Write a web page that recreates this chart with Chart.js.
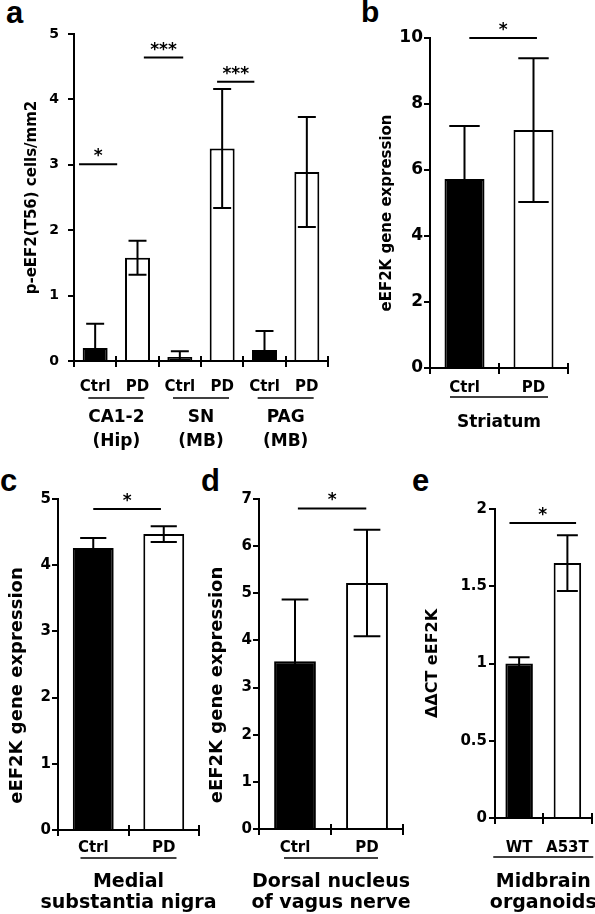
<!DOCTYPE html>
<html>
<head>
<meta charset="utf-8">
<script src="https://cdn.jsdelivr.net/npm/chart.js@4.4.1/dist/chart.umd.min.js"></script>
<style>
  body { margin: 0; width: 595px; height: 914px; position: relative; overflow: hidden; background: #fff; }
  canvas { position: absolute; }
  .letter { position: absolute; font-family: 'Liberation Sans', Arial, sans-serif; font-weight: bold; color: #000; line-height: 1; }
</style>
</head>
<body>
<div class="letter" style="left:6px;top:-3px;font-size:31px">a</div>
<div class="letter" style="left:361px;top:-3px;font-size:30px">b</div>
<div class="letter" style="left:0px;top:465px;font-size:31px">c</div>
<div class="letter" style="left:201px;top:465px;font-size:31px">d</div>
<div class="letter" style="left:412px;top:465px;font-size:31px">e</div>

<canvas id="chartA" width="345" height="470" style="left:0;top:0"></canvas>
<canvas id="chartB" width="245" height="470" style="left:350px;top:0"></canvas>
<canvas id="chartC" width="220" height="444" style="left:0;top:470px"></canvas>
<canvas id="chartD" width="215" height="444" style="left:200px;top:470px"></canvas>
<canvas id="chartE" width="215" height="444" style="left:400px;top:470px"></canvas>

<script>
// panel a - p-eEF2(T56) cells
const aLabels = ['Ctrl', 'PD', 'Ctrl', 'PD', 'Ctrl', 'PD'];
const aMeans = [0.2, 1.58, 0.06, 3.25, 0.17, 2.89];
const aErr = [0.37, 0.26, 0.09, 0.91, 0.29, 0.84];
const aGroups = [['CA1-2', '(Hip)'], ['SN', '(MB)'], ['PAG', '(MB)']];
const aSigText = ['*', '***', '***'];
const aSigLevel = [3.01, 4.64, 4.27];
const aSigSpan = [[-0.38, 0.52], [1.15, 2.08], [2.88, 3.76]];

// panel b - striatum
const bLabels = ['Ctrl', 'PD'];
const bMeans = [5.73, 7.21];
const bErr = [1.6, 2.18];
const bGroups = [['Striatum']];
const bSigText = ['*'];
const bSigLevel = [10];
const bSigSpan = [[0.07, 1.05]];

// panel c - medial substantia nigra
const cLabels = ['Ctrl', 'PD'];
const cMeans = [4.26, 4.47];
const cErr = [0.15, 0.12];
const cGroups = [['Medial', 'substantia nigra']];
const cSigText = ['*'];
const cSigLevel = [4.85];
const cSigSpan = [[0.0, 0.96]];

// panel d - dorsal nucleus of vagus nerve
const dLabels = ['Ctrl', 'PD'];
const dMeans = [3.56, 5.22];
const dErr = [1.31, 1.13];
const dGroups = [['Dorsal nucleus', 'of vagus nerve']];
const dSigText = ['*'];
const dSigLevel = [6.8];
const dSigSpan = [[0.04, 0.99]];

// panel e - midbrain organoids
const eLabels = ['WT', 'A53T'];
const eMeans = [1.0, 1.65];
const eErr = [0.04, 0.18];
const eGroups = [['Midbrain', 'organoids']];
const eSigText = ['*'];
const eSigLevel = [1.91];
const eSigSpan = [[-0.2, 1.18]];

const FONT = "'DejaVu Sans', sans-serif";
Chart.defaults.font.family = FONT;
Chart.defaults.font.weight = 'bold';
Chart.defaults.color = '#000';

// error bars, boundary ticks, significance bars, group labels, y title
const panelExtras = {
  id: 'panelExtras',
  afterDatasetsDraw(chart, args, opts) {
    const { ctx, chartArea, scales: { x, y } } = chart;
    const ds = chart.data.datasets[0];
    const meta = chart.getDatasetMeta(0);
    ctx.save();
    ctx.strokeStyle = '#000';
    ctx.fillStyle = '#000';
    ctx.lineWidth = 2;

    meta.data.forEach((bar, i) => {
      const v = ds.data[i], e = ds.errors[i];
      const yTop = y.getPixelForValue(v + e);
      const yBot = y.getPixelForValue(Math.max(0, v - e));
      const hw = bar.width * opts.capRatio;
      ctx.beginPath();
      ctx.moveTo(bar.x, yTop); ctx.lineTo(bar.x, yBot);
      ctx.moveTo(bar.x - hw, yTop); ctx.lineTo(bar.x + hw, yTop);
      if (v - e > 0) { ctx.moveTo(bar.x - hw, yBot); ctx.lineTo(bar.x + hw, yBot); }
      ctx.stroke();
    });

    // ticks between categories, crossing the axis
    const n = ds.data.length;
    ctx.beginPath();
    for (let k = 0; k <= n; k++) {
      const px = Math.round(x.getPixelForValue(k - 0.5));
      ctx.moveTo(px, chartArea.bottom - 5);
      ctx.lineTo(px, chartArea.bottom + 6);
    }
    ctx.stroke();

    // significance
    ctx.textAlign = 'center';
    ctx.textBaseline = 'alphabetic';
    ctx.font = `bold ${opts.starSize}px ${FONT}`;
    opts.sigText.forEach((t, i) => {
      const yy = y.getPixelForValue(opts.sigLevel[i]);
      const x0 = x.getPixelForValue(opts.sigSpan[i][0]);
      const x1 = x.getPixelForValue(opts.sigSpan[i][1]);
      ctx.beginPath();
      ctx.moveTo(x0, yy); ctx.lineTo(x1, yy);
      ctx.stroke();
      ctx.fillText(t, (x0 + x1) / 2, yy - 3);
    });

    // group underline + labels
    const per = n / opts.groups.length;
    ctx.font = `bold ${opts.groupSize}px ${FONT}`;
    ctx.textBaseline = 'middle';
    ctx.lineWidth = 1.5;
    opts.groups.forEach((lines, g) => {
      const cx = x.getPixelForValue(g * per + (per - 1) / 2);
      const uy = chartArea.bottom + opts.underline;
      ctx.beginPath();
      ctx.moveTo(cx - opts.underHalf, uy); ctx.lineTo(cx + opts.underHalf, uy);
      ctx.stroke();
      lines.forEach((s, j) => {
        ctx.fillText(s, cx, chartArea.bottom + opts.groupLines[j]);
      });
    });

    // y axis title (the figure does not centre it on the axis)
    const t = y.options.title;
    ctx.font = `bold ${t.font.size}px ${FONT}`;
    ctx.translate(opts.titleX, (chartArea.top + chartArea.bottom) / 2 + opts.titleShift);
    ctx.rotate(-Math.PI / 2);
    ctx.fillText(t.text, 0, 0);
    ctx.restore();
  }
};

function makePanel(id, p) {
  const fills = p.labels.map((l, i) => (i % 2 === 0 ? '#000' : '#fff'));
  return new Chart(document.getElementById(id), {
    type: 'bar',
    data: {
      labels: p.labels,
      datasets: [{
        data: p.means,
        errors: p.errors,
        backgroundColor: fills,
        borderColor: '#000',
        borderWidth: 2,
        barPercentage: p.barPct,
        categoryPercentage: 1
      }]
    },
    options: {
      responsive: false,
      animation: false,
      layout: { padding: p.pad },
      plugins: {
        legend: { display: false },
        tooltip: { enabled: false },
        panelExtras: p.extras
      },
      scales: {
        x: {
          grid: { display: false, drawTicks: false },
          border: { display: true, color: '#000', width: 2 },
          ticks: { font: { size: p.catSize, weight: 'bold' }, color: '#000', padding: p.catPad, maxRotation: 0 },
          afterFit: (s) => { s.height = 45; }
        },
        y: {
          min: 0, max: p.max,
          grid: { display: true, drawOnChartArea: false, drawTicks: true, tickLength: 6, color: '#000', lineWidth: 2 },
          border: { display: true, color: '#000', width: 2 },
          ticks: {
            stepSize: p.step, font: { size: p.tickSize, weight: 'bold' }, color: '#000', padding: p.tickPad,
            callback: (v) => String(v)
          },
          title: { display: false, text: p.title, font: { size: p.titleSize, weight: 'bold' } },
          afterFit: (s) => { s.width = p.yWidth; }
        }
      }
    },
    plugins: [panelExtras]
  });
}

makePanel('chartA', {
  labels: aLabels, means: aMeans, errors: aErr, max: 5, step: 1, barPct: 0.59,
  title: 'p-eEF2(T56) cells/mm2', titleSize: 15, tickSize: 14, tickPad: 9,
  catSize: 15, catPad: 17, yWidth: 74,
  pad: { top: 34, right: 17, bottom: 64, left: 0 },
  extras: { capRatio: 0.36, starSize: 17, sigText: aSigText, sigLevel: aSigLevel, sigSpan: aSigSpan,
            groups: aGroups, groupSize: 17, underline: 37, underHalf: 28, groupLines: [57, 81],
            titleX: 32, titleShift: 0 }
});

makePanel('chartB', {
  labels: bLabels, means: bMeans, errors: bErr, max: 10, step: 2, barPct: 0.58,
  title: 'eEF2K gene expression', titleSize: 15, tickSize: 17, tickPad: 1,
  catSize: 15, catPad: 11, yWidth: 80,
  pad: { top: 38, right: 27, bottom: 57, left: 0 },
  extras: { capRatio: 0.38, starSize: 17, sigText: bSigText, sigLevel: bSigLevel, sigSpan: bSigSpan,
            groups: bGroups, groupSize: 17, underline: 29, underHalf: 49, groupLines: [55],
            titleX: 37, titleShift: 10 }
});

makePanel('chartC', {
  labels: cLabels, means: cMeans, errors: cErr, max: 5, step: 1, barPct: 0.58,
  title: 'eEF2K gene expression', titleSize: 18, tickSize: 15, tickPad: 1,
  catSize: 15, catPad: 9, yWidth: 58,
  pad: { top: 29, right: 21, bottom: 39, left: 0 },
  extras: { capRatio: 0.32, starSize: 17, sigText: cSigText, sigLevel: cSigLevel, sigSpan: cSigSpan,
            groups: cGroups, groupSize: 19, underline: 28, underHalf: 48, groupLines: [52, 73],
            titleX: 17, titleShift: 21 }
});

makePanel('chartD', {
  labels: dLabels, means: dMeans, errors: dErr, max: 7, step: 1, barPct: 0.58,
  title: 'eEF2K gene expression', titleSize: 18, tickSize: 15, tickPad: 1,
  catSize: 15, catPad: 10, yWidth: 59,
  pad: { top: 29, right: 12, bottom: 40, left: 0 },
  extras: { capRatio: 0.32, starSize: 17, sigText: dSigText, sigLevel: dSigLevel, sigSpan: dSigSpan,
            groups: dGroups, groupSize: 19, underline: 29, underHalf: 47, groupLines: [53, 74],
            titleX: 17, titleShift: 21 }
});

makePanel('chartE', {
  labels: eLabels, means: eMeans, errors: eErr, max: 2, step: 0.5, barPct: 0.57,
  title: 'ΔΔCT eEF2K', titleSize: 16, tickSize: 15, tickPad: 2,
  catSize: 15, catPad: 21, yWidth: 95,
  pad: { top: 39, right: 21, bottom: 51, left: 0 },
  extras: { capRatio: 0.38, starSize: 17, sigText: eSigText, sigLevel: eSigLevel, sigSpan: eSigSpan,
            groups: eGroups, groupSize: 19, underline: 39, underHalf: 50, groupLines: [64, 85],
            titleX: 33, titleShift: 0 }
});
</script>
</body>
</html>
